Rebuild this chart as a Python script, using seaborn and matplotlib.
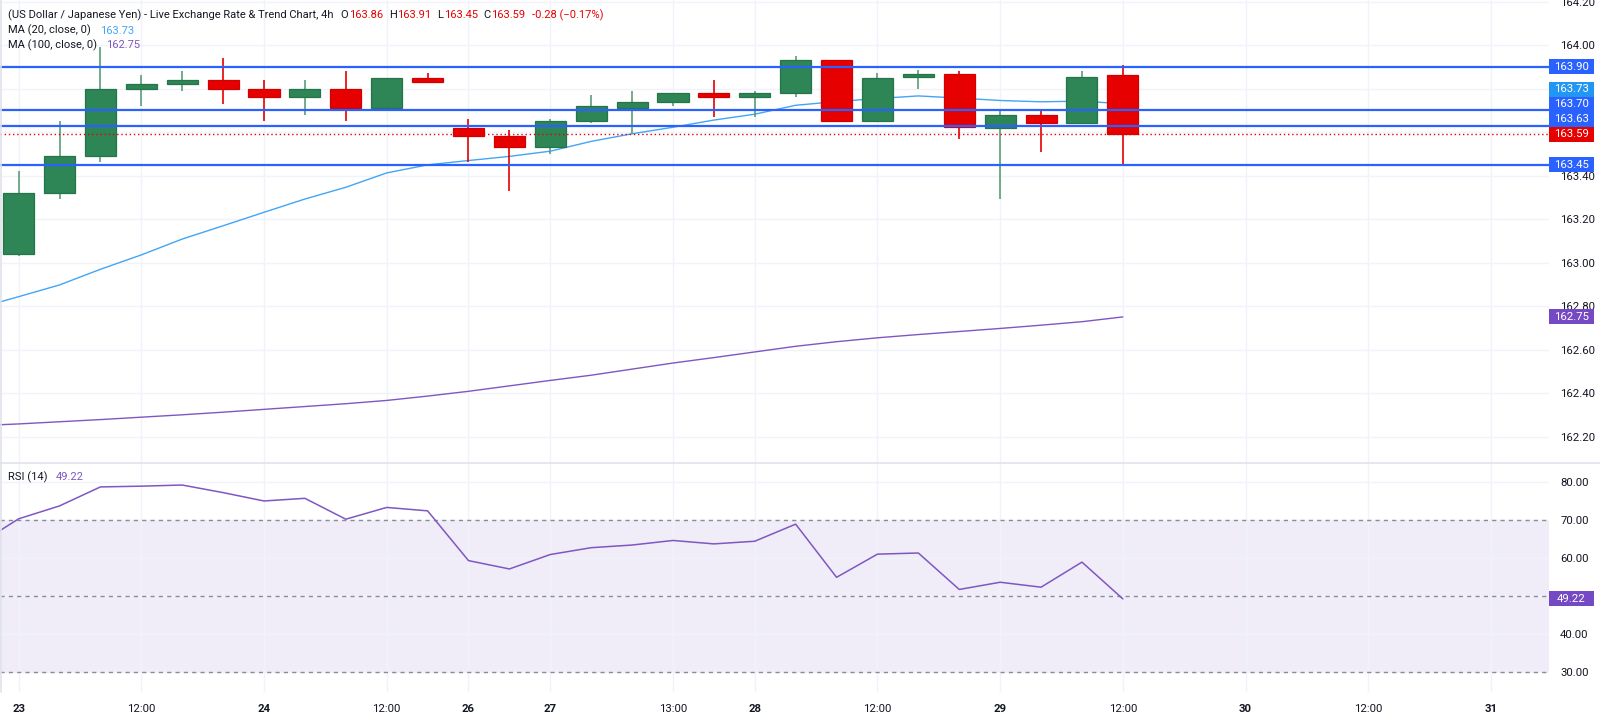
import numpy as np
import pandas as pd
import matplotlib
matplotlib.use("Agg")
import matplotlib.pyplot as plt
import seaborn as sns
from matplotlib.patches import Rectangle
from matplotlib.lines import Line2D

# ---------------- data ----------------
opens  = [163.04, 163.32, 163.49, 163.80, 163.82, 163.84, 163.80, 163.76, 163.80, 163.71,
          163.85, 163.62, 163.58, 163.53, 163.65, 163.71, 163.74, 163.78, 163.76, 163.78,
          163.93, 163.65, 163.855, 163.865, 163.62, 163.68, 163.64, 163.86]
highs  = [163.42, 163.65, 163.99, 163.86, 163.88, 163.94, 163.84, 163.84, 163.88, 163.85,
          163.87, 163.66, 163.61, 163.66, 163.77, 163.79, 163.78, 163.84, 163.79, 163.95,
          163.93, 163.87, 163.885, 163.88, 163.70, 163.70, 163.88, 163.91]
lows   = [163.03, 163.29, 163.46, 163.72, 163.79, 163.73, 163.65, 163.68, 163.65, 163.70,
          163.83, 163.46, 163.33, 163.50, 163.64, 163.59, 163.72, 163.67, 163.67, 163.76,
          163.65, 163.65, 163.80, 163.57, 163.29, 163.51, 163.64, 163.45]
closes = [163.32, 163.49, 163.80, 163.82, 163.84, 163.80, 163.76, 163.80, 163.71, 163.85,
          163.83, 163.58, 163.53, 163.65, 163.72, 163.74, 163.78, 163.76, 163.78, 163.93,
          163.65, 163.85, 163.865, 163.625, 163.68, 163.64, 163.855, 163.59]

# indicator values, first entry belongs to the candle before the visible range
ma20  = [162.79, 162.843, 162.897, 162.969, 163.035, 163.108, 163.169, 163.231, 163.292, 163.346,
         163.412, 163.449, 163.469, 163.488, 163.512, 163.557, 163.592, 163.622, 163.655, 163.682,
         163.723, 163.740, 163.754, 163.766, 163.756, 163.745, 163.739, 163.742, 163.73]
ma100 = [162.25, 162.258, 162.268, 162.278, 162.289, 162.300, 162.312, 162.325, 162.338, 162.351,
         162.366, 162.386, 162.408, 162.433, 162.458, 162.482, 162.510, 162.538, 162.563, 162.589,
         162.615, 162.636, 162.654, 162.669, 162.683, 162.697, 162.712, 162.728, 162.75]
rsi   = [63.5, 70.3, 73.7, 78.7, 78.9, 79.2, 77.2, 75.0, 75.7, 70.2,
         73.3, 72.4, 59.3, 57.1, 60.9, 62.7, 63.4, 64.6, 63.7, 64.4,
         68.9, 54.9, 61.0, 61.3, 51.7, 53.6, 52.3, 58.9, 49.22]

tick_pos    = [0, 3, 6, 9, 11, 13, 16, 18, 21, 24, 27, 30, 33, 36]
tick_labels = ["23", "12:00", "24", "12:00", "26", "27", "13:00", "28",
               "12:00", "29", "12:00", "30", "12:00", "31"]
levels = [163.90, 163.70, 163.63, 163.45]
last_price = 163.59
price_ticks = [162.2, 162.4, 162.6, 162.8, 163.0, 163.2, 163.4, 163.6, 163.8, 164.0, 164.2]
rsi_ticks = [30, 40, 50, 60, 70, 80]

# ---------------- style ----------------
sns.set_theme(style="white")
plt.rcParams['font.family'] = ['Roboto', 'DejaVu Sans']

GREEN = '#2e8555'
GREEN_EDGE = '#26744a'
RED = '#e60000'
BLUE = '#2962ff'
MA20C = '#42a5f5'
MA20BOX = '#2196f3'
PURPLE = '#7e57c2'
PURPLEBOX = '#7649c4'
DARK = '#131722'
GRID = '#f0f3fa'

W, H = 1600, 717
fig = plt.figure(figsize=(16, 7.17), dpi=100)
fig.patch.set_facecolor('white')

def rect(l, t, r, b):
    return [l / W, 1 - b / H, (r - l) / W, (b - t) / H]

ax = fig.add_axes(rect(0, 0, 1549, 462))
axr = fig.add_axes(rect(0, 463, 1549, 692), sharex=ax)

df = pd.DataFrame({"idx": np.arange(len(opens)), "open": opens, "high": highs,
                   "low": lows, "close": closes})
ind = pd.DataFrame({"idx": np.arange(-1, len(opens)), "ma20": ma20, "ma100": ma100, "rsi": rsi})

up = df["close"] >= df["open"]
body_col = np.where(up, GREEN, RED)
edge_col = np.where(up, GREEN_EDGE, '#d40000')
wick_col = np.where(up, '#5a9e78', RED)

# wicks and bodies
ax.vlines(df["idx"], df["low"], df["high"], colors=wick_col, linewidth=1.2, zorder=3)
heights = (df["close"] - df["open"]).abs().clip(lower=0.006)
ax.bar(df["idx"], heights, bottom=np.minimum(df["open"], df["close"]), width=0.76,
       color=body_col, edgecolor=edge_col, linewidth=0.9, zorder=4)

# moving averages
sns.lineplot(data=ind, x="idx", y="ma20", ax=ax, color=MA20C, linewidth=1.0, zorder=2)
sns.lineplot(data=ind, x="idx", y="ma100", ax=ax, color=PURPLE, linewidth=1.0, zorder=2)

# levels
for lv in levels:
    ax.axhline(lv, color=BLUE, linewidth=1.6, zorder=5)
ax.axhline(last_price, color=RED, linewidth=1.0, linestyle=(0, (1, 2)), zorder=5)

xmin, xmax = -0.455, 37.42
ax.set_xlim(xmin, xmax)
ax.set_ylim(162.083, 164.207)
ax.set_yticks(price_ticks)
ax.set_yticklabels([f"{v:.2f}" for v in price_ticks])
ax.set_xticks(tick_pos)
ax.grid(True, color=GRID, linewidth=1)
ax.set_axisbelow(True)
ax.yaxis.tick_right()
ax.tick_params(axis='y', length=0, pad=8, labelsize=8.2, labelcolor=DARK)
ax.tick_params(axis='x', length=0, labelbottom=False)
ax.set_xlabel("")
ax.set_ylabel("")
for s in ax.spines.values():
    s.set_visible(False)

# RSI panel
axr.axhspan(30, 70, color=PURPLE, alpha=0.1, linewidth=0, zorder=0)
for lv in (70, 50, 30):
    axr.axhline(lv, color='#8a8d96', linewidth=1.0, linestyle=(0, (3, 3)), zorder=1)
sns.lineplot(data=ind, x="idx", y="rsi", ax=axr, color=PURPLE, linewidth=1.1, zorder=3)
axr.set_ylim(24.7, 85)
axr.set_yticks(rsi_ticks)
axr.set_yticklabels([f"{v:.2f}" for v in rsi_ticks])
axr.set_xticks(tick_pos)
axr.set_xticklabels(tick_labels)
axr.grid(True, color=GRID, linewidth=1)
axr.set_axisbelow(True)
axr.yaxis.tick_right()
axr.tick_params(axis='y', length=0, pad=8, labelsize=8.2, labelcolor=DARK)
axr.tick_params(axis='x', length=0, pad=9, labelsize=8.2, labelcolor=DARK)
for lab in axr.get_xticklabels():
    if ":" not in lab.get_text():
        lab.set_fontweight('bold')
axr.set_xlabel("")
axr.set_ylabel("")
for s in axr.spines.values():
    s.set_visible(False)
axr.set_xlim(xmin, xmax)

# separators
fig.add_artist(Line2D([0, 1], [1 - 462.5 / H] * 2, transform=fig.transFigure,
                      color='#e0e3eb', linewidth=1.2))
fig.add_artist(Line2D([0.5 / W] * 2, [1 - 692 / H, 1], transform=fig.transFigure,
                      color='#e0e3eb', linewidth=1.2))

# ---------------- price-scale labels ----------------
fig.canvas.draw()

def y_px(axis, v):
    return axis.transData.transform((0, v))[1]  # pixels from bottom

box_h = 15.0
labels = [(levels[0], BLUE), (ma20[-1], MA20BOX), (levels[1], BLUE), (levels[2], BLUE),
          (last_price, RED), (levels[3], BLUE), (ma100[-1], PURPLEBOX)]
entries = sorted([(y_px(ax, v), v, c) for v, c in labels])
placed = []
prev = -1e9
for yp, v, c in entries:
    yy = max(yp, prev + box_h)
    placed.append((yy, v, c, ax))
    prev = yy
placed.append((y_px(axr, rsi[-1]), rsi[-1], PURPLEBOX, axr))

# tick labels fully hidden behind a value box are dropped (as on the reference)
for axis, ticks in ((ax, price_ticks), (axr, rsi_ticks)):
    boxes = [yy for yy, _, _, a in placed if a is axis]
    for lab, tv in zip(axis.get_yticklabels(), ticks):
        ty = y_px(axis, tv)
        if any(abs(ty - b) < 6 for b in boxes):
            lab.set_visible(False)

for yy, v, c, _ in placed:
    fig.add_artist(Rectangle((1549 / W, (yy - box_h / 2) / H), 45 / W, box_h / H,
                             transform=fig.transFigure, facecolor=c, edgecolor=c,
                             linewidth=0, zorder=10))
    fig.text(1571.5 / W, yy / H, f"{v:.2f}", color='white', fontsize=8.2,
             ha='center', va='center', zorder=11)

# ---------------- legends ----------------
renderer = fig.canvas.get_renderer()

def write_segments(x_px, y_top, segments, fs=8.0):
    x = x_px
    for txt, col, gap in segments:
        t = fig.text(x / W, 1 - y_top / H, txt, color=col, fontsize=fs, ha='left', va='center')
        bb = t.get_window_extent(renderer)
        x += bb.width + gap

write_segments(8, 15, [
    ("(US Dollar / Japanese Yen) - Live Exchange Rate & Trend Chart, 4h", DARK, 7),
    ("O", DARK, 0.5), ("163.86", RED, 6),
    ("H", DARK, 0.5), ("163.91", RED, 6),
    ("L", DARK, 0.5), ("163.45", RED, 6),
    ("C", DARK, 0.5), ("163.59", RED, 7),
    ("-0.28 (\u22120.17%)", RED, 0),
])
write_segments(8, 30.5, [("MA (20, close, 0)", DARK, 9), ("163.73", MA20C, 0)])
write_segments(8, 45, [("MA (100, close, 0)", DARK, 9), ("162.75", PURPLE, 0)])
write_segments(8, 477, [("RSI (14)", DARK, 8), ("49.22", PURPLE, 0)])

fig.savefig("out.png", dpi=100)
